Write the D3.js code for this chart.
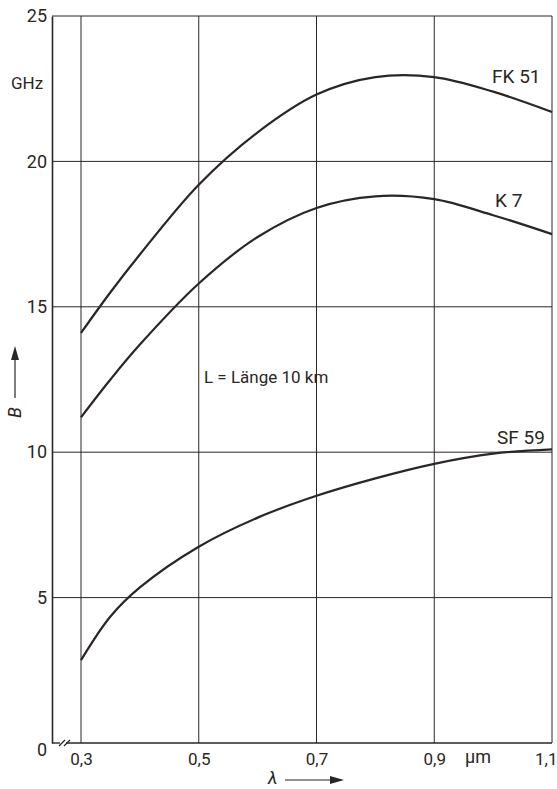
<!DOCTYPE html>
<html>
<head>
<meta charset="utf-8">
<script src="https://cdn.jsdelivr.net/npm/d3@7"></script>
<style>
  body { margin: 0; background: #fff; }
  svg { display: block; }
  text { font-family: Roboto, "Open Sans", sans-serif; fill: #2a2624; }
</style>
</head>
<body>
<div id="chart"></div>
<script>
// wavelength (µm) and bandwidth B (GHz)
const lambda = [0.3, 0.35, 0.4, 0.5, 0.6, 0.7, 0.8, 0.9, 1.0, 1.1];
const fk51 = [14.1, 15.5, 16.8, 19.2, 21.0, 22.3, 22.9, 22.9, 22.4, 21.7];
const k7 = [11.2, 12.5, 13.7, 15.8, 17.4, 18.4, 18.8, 18.7, 18.15, 17.5];
const sf59 = [2.85, 4.35, 5.35, 6.75, 7.75, 8.5, 9.1, 9.6, 9.95, 10.1];
const xTicks = [0.3, 0.5, 0.7, 0.9, 1.1];
const yTicks = [0, 5, 10, 15, 20, 25];

const series = [
    { name: "FK 51", values: fk51 },
    { name: "K 7", values: k7 },
    { name: "SF 59", values: sf59 }
];

const width = 557, height = 789;
const axisX = 52; // y axis sits left of the 0,3 gridline (broken x axis)

const svg = d3.select("#chart").append("svg")
    .attr("width", width)
    .attr("height", height);

const x = d3.scaleLinear().domain([0.3, 1.1]).range([81, 552]);
const y = d3.scaleLinear().domain([0, 25]).range([743, 16]);

const ink = "#2a2624";
const fmt = v => d3.format(".1f")(v).replace(".", ",");

// grid
svg.append("g")
    .selectAll("line")
    .data(xTicks)
    .enter().append("line")
    .attr("x1", d => x(d)).attr("x2", d => x(d))
    .attr("y1", y(25)).attr("y2", y(0))
    .attr("stroke", ink).attr("stroke-width", 1);

svg.append("g")
    .selectAll("line")
    .data(yTicks.filter(d => d > 0))
    .enter().append("line")
    .attr("x1", axisX).attr("x2", x(1.1))
    .attr("y1", d => y(d)).attr("y2", d => y(d))
    .attr("stroke", ink).attr("stroke-width", 1);

// y axis
svg.append("g")
    .attr("transform", `translate(${axisX},0)`)
    .call(d3.axisLeft(y).tickValues(yTicks).tickSize(0).tickPadding(5).tickFormat(d3.format("d")))
    .call(g => g.select(".domain").attr("stroke", ink).attr("stroke-width", 1.6))
    .call(g => g.selectAll(".tick text")
        .style("font-size", "18px")
        .attr("fill", ink)
        .attr("dy", d => d === 0 ? "0.7em" : "0.32em"));

// broken x axis
svg.append("line")
    .attr("x1", axisX).attr("x2", 60)
    .attr("y1", y(0)).attr("y2", y(0))
    .attr("stroke", ink).attr("stroke-width", 1.4);
svg.append("line")
    .attr("x1", 66).attr("x2", x(1.1))
    .attr("y1", y(0)).attr("y2", y(0))
    .attr("stroke", ink).attr("stroke-width", 1.4);
[59, 64].forEach(bx => {
    svg.append("line")
        .attr("x1", bx).attr("x2", bx + 6)
        .attr("y1", y(0) + 3).attr("y2", y(0) - 3)
        .attr("stroke", ink).attr("stroke-width", 1.2);
});

svg.append("g")
    .attr("transform", `translate(0,${y(0)})`)
    .call(d3.axisBottom(x).tickValues(xTicks).tickSize(0).tickPadding(10).tickFormat(fmt))
    .call(g => g.select(".domain").remove())
    .call(g => g.selectAll(".tick text").style("font-size", "17px").attr("fill", ink))
    .call(g => g.selectAll(".tick").filter(d => d === 1.1).select("text")
        .attr("text-anchor", "end").attr("x", 557 - x(1.1)));

// curves
const line = d3.line()
    .x((d, i) => x(lambda[i]))
    .y(d => y(d))
    .curve(d3.curveCatmullRom.alpha(0.5));

svg.selectAll(".curve")
    .data(series)
    .enter().append("path")
    .attr("class", "curve")
    .attr("fill", "none")
    .attr("stroke", ink)
    .attr("stroke-width", 2.2)
    .attr("d", d => line(d.values));

// curve labels
const labels = [
    { text: "FK 51", x: 492, y: 83 },
    { text: "K 7", x: 495, y: 207 },
    { text: "SF 59", x: 497, y: 444 }
];
svg.selectAll(".lab")
    .data(labels)
    .enter().append("text")
    .attr("x", d => d.x).attr("y", d => d.y)
    .style("font-size", "19px")
    .text(d => d.text);

svg.append("text")
    .attr("x", 204).attr("y", 383)
    .style("font-size", "17px")
    .text("L = Länge 10 km");

svg.append("text")
    .attr("x", 11).attr("y", 89)
    .style("font-size", "17px")
    .text("GHz");

svg.append("text")
    .attr("x", 465).attr("y", 763)
    .style("font-size", "18px")
    .text("µm");

// axis titles with arrows
svg.append("text")
    .attr("x", 268).attr("y", 784)
    .style("font-size", "18px")
    .style("font-style", "italic")
    .text("λ");
svg.append("line")
    .attr("x1", 285).attr("x2", 332)
    .attr("y1", 780).attr("y2", 780)
    .attr("stroke", ink).attr("stroke-width", 1.2);
svg.append("path")
    .attr("d", "M344,780 L330,776 L330,784 Z")
    .attr("fill", ink);

svg.append("text")
    .attr("transform", "translate(21,418) rotate(-90)")
    .style("font-size", "18px")
    .style("font-style", "italic")
    .text("B");
svg.append("line")
    .attr("x1", 15).attr("x2", 15)
    .attr("y1", 398).attr("y2", 358)
    .attr("stroke", ink).attr("stroke-width", 1.2);
svg.append("path")
    .attr("d", "M15,346 L11,360 L19,360 Z")
    .attr("fill", ink);
</script>
</body>
</html>
